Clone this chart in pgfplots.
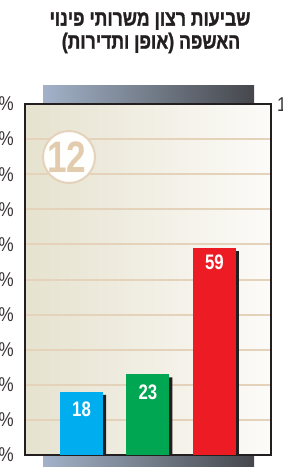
\documentclass[border=0pt]{standalone}
\usepackage{fontspec}
\setmainfont{Liberation Sans}
\newfontfamily\hebfont[Script=Hebrew,FakeStretch=0.8,FakeBold=1.2]{Liberation Sans Bold}
\newfontfamily\condfont[FakeStretch=0.8]{Liberation Sans}
\newfontfamily\tickfont[FakeStretch=0.85]{Liberation Sans}
\usepackage{pgfplots}
\pgfplotsset{compat=1.18}
\TeXXeTstate=1
\definecolor{bgL}{HTML}{E6E2CF}
\definecolor{bgR}{HTML}{FCFBF8}
\definecolor{gridc}{HTML}{E5D2BA}
\definecolor{bandL}{HTML}{A2B2C8}
\definecolor{bandR}{HTML}{45474C}
\definecolor{framec}{HTML}{231F20}
\definecolor{cblue}{HTML}{00AEEF}
\definecolor{cgreen}{HTML}{00A651}
\definecolor{cred}{HTML}{ED1C24}
\definecolor{badge}{HTML}{E3CCAD}
\begin{document}
\begin{tikzpicture}[x=1pt,y=1pt]
\useasboundingbox (0,0) rectangle (282,467);
\clip (0,0) rectangle (282,467);
\shade[left color=bandL,right color=bandR] (43,363) rectangle (254,381);
\shade[left color=bandL,right color=bandR] (43,0) rectangle (254,13);
\begin{axis}[
  at={(25pt,12pt)}, anchor=south west, scale only axis,
  width=246pt, height=351pt,
  xmin=-0.85, xmax=2.85, ymin=0, ymax=100,
  xtick=\empty,
  ytick={0,10,20,30,40,50,60,70,80,90,100},
  yticklabels={0\%,10\%,20\%,30\%,40\%,50\%,60\%,70\%,80\%,90\%,100\%},
  major tick length=0pt,
  yticklabel style={font=\tickfont\fontsize{20}{20}\selectfont, text=framec!90, anchor=east, inner sep=0pt, xshift=-11pt},
  ymajorgrids, grid style={gridc, line width=2pt},
  axis line style={framec, line width=2.5pt},
  axis background/.style={shade, left color=bgL, right color=bgR},
  /pgf/number format/assume math mode=true,
  clip=false,
]
\addplot[ybar, bar width=43pt, bar shift=3pt, fill=framec, draw=none] coordinates {(0,17.1) (1,22.1) (2,58.1)};
\addplot[ybar, bar width=43pt, bar shift=0pt, fill=cblue, draw=none,
  nodes near coords, every node near coord/.append style={anchor=north, inner sep=0pt, yshift=-10pt, text=white, font=\condfont\bfseries\fontsize{21}{21}\selectfont}] coordinates {(0,18)};
\addplot[ybar, bar width=43pt, bar shift=0pt, fill=cgreen, draw=none,
  nodes near coords, every node near coord/.append style={anchor=north, inner sep=0pt, yshift=-10pt, text=white, font=\condfont\bfseries\fontsize{21}{21}\selectfont}] coordinates {(1,23)};
\addplot[ybar, bar width=43pt, bar shift=0pt, fill=cred, draw=none,
  nodes near coords, every node near coord/.append style={anchor=north, inner sep=0pt, yshift=-7pt, text=white, font=\condfont\bfseries\fontsize{21}{21}\selectfont}] coordinates {(2,59)};
\end{axis}
\draw[gridc, line width=2pt, fill=white!70!bgR] (69,310) circle (26);
\node[font=\condfont\bfseries\fontsize{44}{44}\selectfont, text=badge, inner sep=0pt] at (67,310) {12};
\node[anchor=west, inner sep=0pt, font=\tickfont\fontsize{20}{20}\selectfont, text=framec!90] at (277,362) {100\%};
\node[font=\hebfont\fontsize{22}{24}\selectfont, text=framec, inner sep=0pt] at (150,446) {\beginR שביעות רצון משרותי פינוי\endR};
\node[font=\hebfont\fontsize{22}{24}\selectfont, text=framec, inner sep=0pt] at (151,424) {\beginR האשפה (אופן ותדירות)\endR};
\end{tikzpicture}
\end{document}
